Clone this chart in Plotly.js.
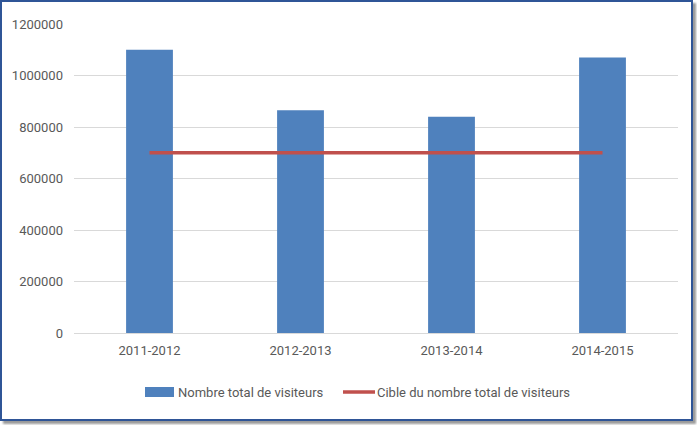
<!DOCTYPE html>
<html><head><meta charset="utf-8">
<script src="https://cdn.plot.ly/plotly-3.0.1.min.js"></script>
<style>
html,body{margin:0;padding:0;background:#fff;}
#wrap{position:relative;width:697px;height:425px;}
#chart{position:absolute;left:0;top:0;width:697px;height:425px;}
#frame{position:absolute;left:0;top:0;width:689px;height:417px;border:2px solid #2f5597;box-shadow:3px 3px 2px #9a9a9a;pointer-events:none;}
</style></head>
<body><div id="wrap"><div id="chart"></div><div id="frame"></div></div>
<script>
const categories = ["2011-2012","2012-2013","2013-2014","2014-2015"];
const visiteurs = [1100000, 865000, 840000, 1070000];
const cible = [700000, 700000, 700000, 700000];
const seriesNames = ["Nombre total de visiteurs","Cible du nombre total de visiteurs"];
const yTicks = [0,200000,400000,600000,800000,1000000,1200000];

const barColor = "#4f81bd", lineColor = "#c0504d";
const font = {family:"Roboto, sans-serif", size:13, color:"#595959"};
const L=74, R=678, T=24, B=333;
const px = x => (x-L)/(R-L), py = y => (B-y)/(B-T);

const data = [
  {type:"bar", x:categories, y:visiteurs, name:seriesNames[0], marker:{color:barColor}, width:0.31},
  {type:"scatter", mode:"lines", x:categories, y:cible, name:seriesNames[1], line:{color:lineColor, width:3.5}}
];
const layout = {
  width:697, height:425,
  margin:{l:L, r:697-R, t:T, b:425-B},
  paper_bgcolor:"#fff", plot_bgcolor:"#fff",
  font:font,
  showlegend:false,
  xaxis:{type:"category", showgrid:false, showline:false, zeroline:false, ticks:"", ticklabelstandoff:8, tickfont:font},
  yaxis:{range:[0,1200000], tickvals:yTicks, ticktext:yTicks.map(String), showgrid:true, gridcolor:"#d9d9d9", gridwidth:1, zeroline:true, zerolinecolor:"#d9d9d9", zerolinewidth:1, showline:false, ticks:"", ticklabelstandoff:10, tickfont:font},
  shapes:[
    {type:"rect", xref:"paper", yref:"paper", x0:px(145), x1:px(174), y0:py(397), y1:py(387), fillcolor:barColor, line:{width:0}},
    {type:"line", xref:"paper", yref:"paper", x0:px(343), x1:px(375), y0:py(392), y1:py(392), line:{color:lineColor, width:3.5}}
  ],
  annotations:[
    {xref:"paper", yref:"paper", x:px(176), y:py(392), xanchor:"left", yanchor:"middle", text:seriesNames[0], showarrow:false, font:font},
    {xref:"paper", yref:"paper", x:px(375), y:py(392), xanchor:"left", yanchor:"middle", text:seriesNames[1], showarrow:false, font:font}
  ]
};
Plotly.newPlot("chart", data, layout, {displayModeBar:false, staticPlot:true});
</script></body></html>
